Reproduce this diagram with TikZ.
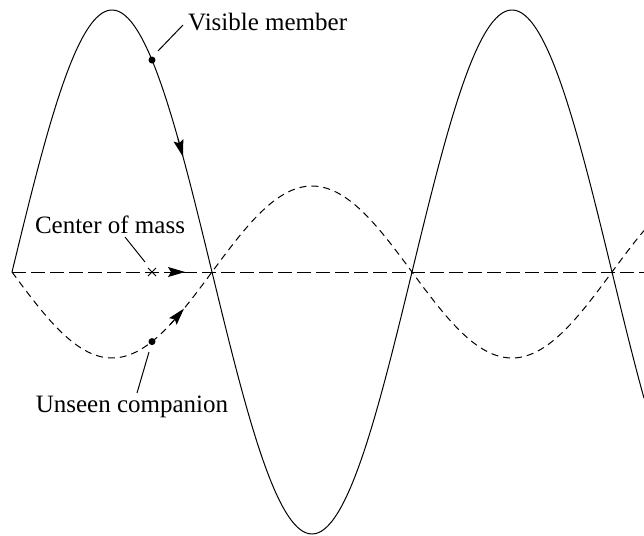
\documentclass[tikz,border=0pt]{standalone}
\usepackage{fontspec}
\setmainfont{Liberation Serif}
\newfontfamily\lblfont{Liberation Serif}
\usetikzlibrary{arrows.meta,calc}
\begin{document}
\begin{tikzpicture}[x=1pt,y=-1pt,
  curve/.style={line width=1pt},
  axisline/.style={line width=1pt,dash pattern=on 14pt off 5pt},
  compline/.style={line width=1pt,dash pattern=on 7pt off 5pt},
  leader/.style={line width=1pt},
  tipped/.style={line width=1pt,-{Stealth[length=17pt,width=10pt,inset=3pt]}},
  lbl/.style={font=\lblfont\fontsize{25}{30}\selectfont,inner sep=0pt},
  dotmark/.style={fill=black,circle,inner sep=0pt,minimum size=7pt}
]
\useasboundingbox (0,0) rectangle (644,535);
% center line
\coordinate (L0) at (12,272);
\coordinate (L1) at (644,272);
\draw[axisline] (L0) -- (L1);
% visible member (solid)
\draw[curve] plot[smooth,samples=240,domain=12:644] (\x,{272-262*sin(0.9*(\x-12))});
% unseen companion (dashed)
\draw[compline] plot[smooth,samples=240,domain=12:644] (\x,{272+86*sin(0.9*(\x-12))});
% arrows on curves
\coordinate (sa0) at (178,{272-262*sin(0.9*(178-12))});
\coordinate (sa1) at (183,{272-262*sin(0.9*(183-12))});
\draw[tipped] (sa0) -- (sa1);
\coordinate (ca0) at (165,272);
\coordinate (ca1) at (185,272);
\draw[tipped] (ca0) -- (ca1);
\coordinate (da0) at (170,{272+86*sin(0.9*(170-12))});
\coordinate (da1) at (184,{272+86*sin(0.9*(184-12))});
\draw[tipped] (da0) -- (da1);
% markers
\node[dotmark] (vdot) at (152,{272-262*sin(0.9*(152-12))}) {};
\node[dotmark] (udot) at (152,{272+86*sin(0.9*(152-12))}) {};
\coordinate (cm) at (152,272);
\draw[line width=1pt] ($(cm)+(-4,-4)$) -- ($(cm)+(4,4)$);
\draw[line width=1pt] ($(cm)+(-4,4)$) -- ($(cm)+(4,-4)$);
% labels
\node[lbl,anchor=west] (vm) at (188,22) {Visible member};
\node[lbl] (com) at (110,225) {Center of mass};
\node[lbl] (uc) at (132,407) {Unseen companion};
% leaders
\coordinate (v1) at (158,51); \coordinate (v2) at (183,25);
\draw[leader] (v1) -- (v2);
\coordinate (c1) at (125,237); \coordinate (c2) at (145,262);
\draw[leader] (c1) -- (c2);
\coordinate (u1) at (149,352); \coordinate (u2) at (137,393);
\draw[leader] (u1) -- (u2);
\end{tikzpicture}
\end{document}
